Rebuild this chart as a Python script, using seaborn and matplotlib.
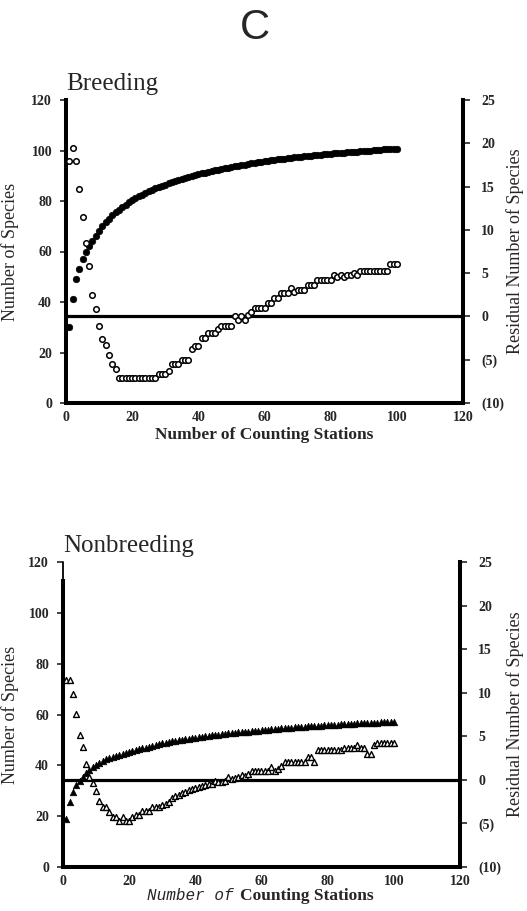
import numpy as np
import pandas as pd
import matplotlib
matplotlib.use("Agg")
import matplotlib.pyplot as plt
import seaborn as sns

sns.set_style("white")
plt.rcParams["font.family"] = ["Liberation Serif", "DejaVu Serif"]

# ---------------- data ----------------
stations = list(range(1, 101))

breeding_species = [
    30, 41, 49, 53, 57, 60, 62, 64, 66, 68,
    70, 71.5, 73, 74.5, 75.5, 76.5, 77.5, 78.5, 79.5, 80.3,
    81, 81.8, 82.5, 83.2, 83.8, 84.4, 85, 85.5, 86, 86.5,
    87, 87.4, 87.9, 88.3, 88.7, 89.1, 89.5, 89.9, 90.2, 90.6,
    90.9, 91.2, 91.5, 91.8, 92.1, 92.4, 92.7, 93, 93.2, 93.5,
    93.7, 94, 94.2, 94.4, 94.7, 94.9, 95.1, 95.3, 95.5, 95.7,
    95.9, 96.1, 96.3, 96.5, 96.6, 96.8, 97, 97.1, 97.3, 97.4,
    97.6, 97.7, 97.9, 98, 98.1, 98.3, 98.4, 98.5, 98.6, 98.8,
    98.9, 99, 99.1, 99.2, 99.3, 99.4, 99.5, 99.6, 99.7, 99.8,
    99.9, 100, 100.1, 100.2, 100.3, 100.4, 100.5, 100.5, 100.6, 100.7,
]

breeding_residual = [
    18, 19.5, 18, 14.7, 11.5, 8.5, 5.8, 2.5, 0.9, -1.1,
    -2.6, -3.3, -4.5, -5.5, -6.1, -7.1, -7.1, -7.1, -7.1, -7.1,
    -7.1, -7.1, -7.1, -7.1, -7.1, -7.1, -7.1, -6.7, -6.7, -6.7,
    -6.3, -5.5, -5.5, -5.5, -5.0, -5.0, -5.0, -3.8, -3.4, -3.4,
    -2.5, -2.5, -1.9, -1.9, -1.9, -1.5, -1.1, -1.1, -1.1, -1.1,
    0.0, -0.4, 0.0, -0.4, 0.2, 0.5, 1.0, 1.0, 1.0, 1.0,
    1.5, 1.5, 2.15, 2.15, 2.65, 2.65, 2.65, 3.3, 2.8, 3.1,
    3.1, 3.1, 3.6, 3.6, 3.6, 4.2, 4.2, 4.2, 4.2, 4.2,
    4.75, 4.5, 4.75, 4.5, 4.75, 4.75, 5.0, 4.75, 5.3, 5.3,
    5.3, 5.3, 5.3, 5.3, 5.3, 5.3, 5.3, 6.1, 6.1, 6.1,
]

nonbreeding_species = [
    19, 25.5, 29.5, 32.3, 33.8, 35.5, 37, 38.2, 39.3, 40.2,
    41, 41.7, 42.3, 42.8, 43.3, 43.8, 44.2, 44.6, 45, 45.4,
    45.7, 46.1, 46.4, 46.7, 47, 47.3, 47.7, 48, 48.3, 48.6,
    48.9, 49.1, 49.4, 49.6, 49.9, 50.1, 50.3, 50.5, 50.7, 50.9,
    51.1, 51.3, 51.5, 51.6, 51.8, 52, 52.1, 52.3, 52.4, 52.6,
    52.7, 52.9, 53, 53.1, 53.2, 53.3, 53.5, 53.6, 53.7, 53.8,
    53.9, 54, 54.1, 54.3, 54.4, 54.5, 54.6, 54.7, 54.8, 54.9,
    55, 55.1, 55.2, 55.3, 55.4, 55.5, 55.5, 55.6, 55.7, 55.8,
    55.9, 56, 56, 56.1, 56.2, 56.3, 56.3, 56.4, 56.5, 56.5,
    56.6, 56.6, 56.7, 56.8, 56.8, 56.9, 57, 57, 57.1, 57.1,
]

nonbreeding_residual = [
    11.5, 11.5, 9.9, 7.6, 5.2, 3.75, 1.8, 0.35, -0.4, -1.25,
    -2.4, -3.1, -3.1, -3.7, -4.3, -4.3, -4.7, -4.3, -4.7, -4.7,
    -4.3, -4.0, -4.0, -3.6, -3.6, -3.6, -3.15, -3.15, -3.15, -2.9,
    -2.8, -2.5, -2.1, -1.9, -1.7, -1.55, -1.4, -1.2, -1.1, -0.9,
    -0.8, -0.7, -0.6, -0.5, -0.5, -0.1, -0.3, -0.2, -0.1, 0.35,
    0.1, 0.2, 0.3, 0.6, 0.5, 0.65, 1.0, 1.0, 1.0, 1.0,
    1.0, 1.0, 1.5, 1.0, 1.3, 1.6, 2.0, 2.0, 2.0, 2.0,
    2.0, 2.0, 2.0, 2.6, 2.6, 2.0, 3.4, 3.4, 3.4, 3.4,
    3.4, 3.4, 3.4, 3.4, 3.7, 3.7, 3.7, 3.7, 4.05, 3.7,
    3.6, 3.0, 3.0, 4.0, 4.2, 4.2, 4.2, 4.2, 4.2, 4.2,
]

x_ticks = [0, 20, 40, 60, 80, 100, 120]
left_ticks = [0, 20, 40, 60, 80, 100, 120]
right_ticks = [-10, -5, 0, 5, 10, 15, 20, 25]
right_labels = ["(10)", "(5)", "0", "5", "10", "15", "20", "25"]

df_b = pd.DataFrame({"stations": stations, "species": breeding_species,
                     "residual": breeding_residual})
df_n = pd.DataFrame({"stations": stations, "species": nonbreeding_species,
                     "residual": nonbreeding_residual})

# ---------------- figure ----------------
W, H = 527, 911
fig = plt.figure(figsize=(W / 100, H / 100), dpi=100)

tick_font = dict(family="Liberation Serif", weight="bold", size=10)
SPW = 2.9


def style_panel(ax, axr, title, left_px):
    ax.set_xlim(0, 120)
    ax.set_ylim(0, 120)
    axr.set_ylim(-10, 25)
    ax.set_xticks(x_ticks)
    ax.set_yticks(left_ticks)
    axr.set_yticks(right_ticks)
    ax.set_xticklabels([str(v) for v in x_ticks], fontdict=tick_font)
    ax.set_yticklabels([str(v) for v in left_ticks], fontdict=tick_font)
    axr.set_yticklabels(right_labels, fontdict=tick_font)
    for a in (ax, axr):
        a.spines["top"].set_visible(False)
        for s in ("left", "right", "bottom"):
            a.spines[s].set_linewidth(SPW)
            a.spines[s].set_color("black")
        a.grid(False)
    ax.spines["right"].set_visible(False)
    axr.spines["left"].set_visible(False)
    axr.spines["bottom"].set_visible(False)
    ax.tick_params(axis="x", length=0, pad=6)
    ax.tick_params(axis="y", length=4, width=1.2, pad=6, direction="out", left=True)
    axr.tick_params(axis="y", length=5, width=1.2, pad=8, direction="out", right=True)
    ax.set_ylabel("Number of Species", fontsize=13)
    axr.set_ylabel("Residual Number of Species", fontsize=13)
    ax.yaxis.set_label_coords((19 - left_px) / 397, 0.5)
    axr.yaxis.set_label_coords((506 - left_px) / 397, 0.5)
    ax.text(0.0, 1.015, title, transform=ax.transAxes, fontsize=18,
            ha="left", va="bottom")
    ax.patch.set_alpha(0)
    axr.axhline(0, color="black", lw=2.3, zorder=1)


# top panel: Breeding
ax1 = fig.add_axes([66 / W, 1 - 403 / H, 397 / W, 303 / H])
ax1r = ax1.twinx()
sns.scatterplot(data=df_b, x="stations", y="species", ax=ax1, marker="o",
                s=22, color="black", edgecolor="black", linewidth=0.5, zorder=3)
sns.scatterplot(data=df_b, x="stations", y="residual", ax=ax1r, marker="o",
                s=16, facecolor="white", edgecolor="black", linewidth=1.1, zorder=3)
style_panel(ax1, ax1r, "Breeding", 66)
ax1.set_xlabel("Number of Counting Stations", fontsize=12.5, weight="bold", labelpad=2)

# bottom panel: Nonbreeding
ax2 = fig.add_axes([63 / W, 1 - 867 / H, 397 / W, 305 / H])
ax2r = ax2.twinx()
sns.scatterplot(data=df_n, x="stations", y="species", ax=ax2, marker="^",
                s=22, color="black", edgecolor="black", linewidth=0.5, zorder=3)
sns.scatterplot(data=df_n, x="stations", y="residual", ax=ax2r, marker="^",
                s=18, facecolor="white", edgecolor="black", linewidth=1.0, zorder=3)
style_panel(ax2, ax2r, "Nonbreeding", 63)
ax2.spines["left"].set_bounds(0, 112.5)
ax2.plot([0, 0], [112.5, 120], color="black", lw=1.3, clip_on=False, zorder=4)
ax2.set_xlabel("")
ax2.text(0.43, -0.095, "Number of", transform=ax2.transAxes, ha="right", va="center",
         family="Liberation Mono", style="italic", fontsize=11.5)
ax2.text(0.445, -0.095, "Counting Stations", transform=ax2.transAxes, ha="left",
         va="center", family="Liberation Serif", weight="bold", fontsize=12.5)

fig.text(255 / W, 1 - 28 / H, "C", family="Liberation Sans", fontsize=30,
         ha="center", va="center")

fig.savefig("out.png", dpi=100)
